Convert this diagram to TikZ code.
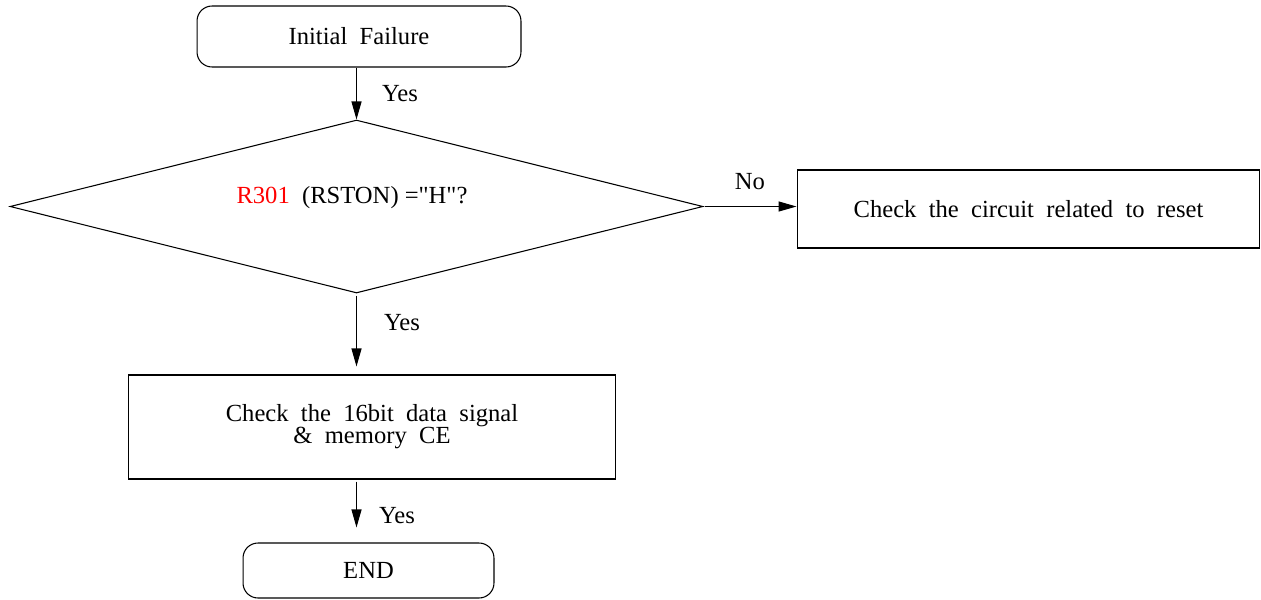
\documentclass[tikz,border=0pt]{standalone}
\usepackage{fontspec}
\setmainfont{Liberation Serif}
\usetikzlibrary{arrows.meta}
\usetikzlibrary{shapes.geometric}

\begin{document}
\begin{tikzpicture}[x=0.02cm, y=-0.02cm, line width=0.6pt,
		every node/.style={font=\fontsize{14}{12.5}\selectfont},
		termbox/.style={draw, rounded corners=0.3cm, inner sep=0pt},
		stepbox/.style={draw, inner sep=0pt, align=center},
		flow/.style={-{Triangle[length=0.36cm, width=0.2cm]}}]
		\useasboundingbox (0, 0) rectangle (1261, 599);
		
		\node [termbox, minimum width=6.48cm, minimum height=1.22cm] (init) at (359, 36.5) {Initial\ \ Failure}; % Start
		\node [draw, diamond, aspect=4, inner sep=0pt, minimum width=13.86cm, minimum height=3.46cm] (dec) at (356.5, 206.5) {}; % Frågan
		\node (dectext) at (352, 198) {\textcolor{red}{R301}\ \ (RSTON)\ =\textquotedbl H\textquotedbl ?};
		\node [stepbox, minimum width=9.26cm, minimum height=1.56cm] (reset) at (1028.5, 209) {Check\ \ the\ \ circuit\ \ related\ \ to\ \ reset};
		\node [stepbox, minimum width=9.76cm, minimum height=2.08cm] (data) at (372, 427) {Check\ \ the\ \ 16bit\ \ data\ \ signal\\ \&\ \ memory\ \ CE};
		\node [termbox, minimum width=5.02cm, minimum height=1.1cm] (fin) at (368.5, 570.5) {END}; % Slut
		
		\draw [flow] (init.south -| dec.north) -- (dec.north); % Pilarna
		\draw [flow, shorten <=0.04cm] (dec.east) -- (dec.east -| reset.west);
		\draw [flow, shorten <=0.04cm, shorten >=0.16cm] (dec.south) -- (dec.south |- data.north);
		\draw [flow, shorten <=0.04cm, shorten >=0.3cm] (data.south -| dec.south) -- (dec.south |- fin.north);
		
		\node (yes1) at (400, 94) {Yes};
		\node (no) at (750, 182) {No};
		\node (yes2) at (402, 323) {Yes};
		\node (yes3) at (397, 516) {Yes};
	\end{tikzpicture}
\end{document}
